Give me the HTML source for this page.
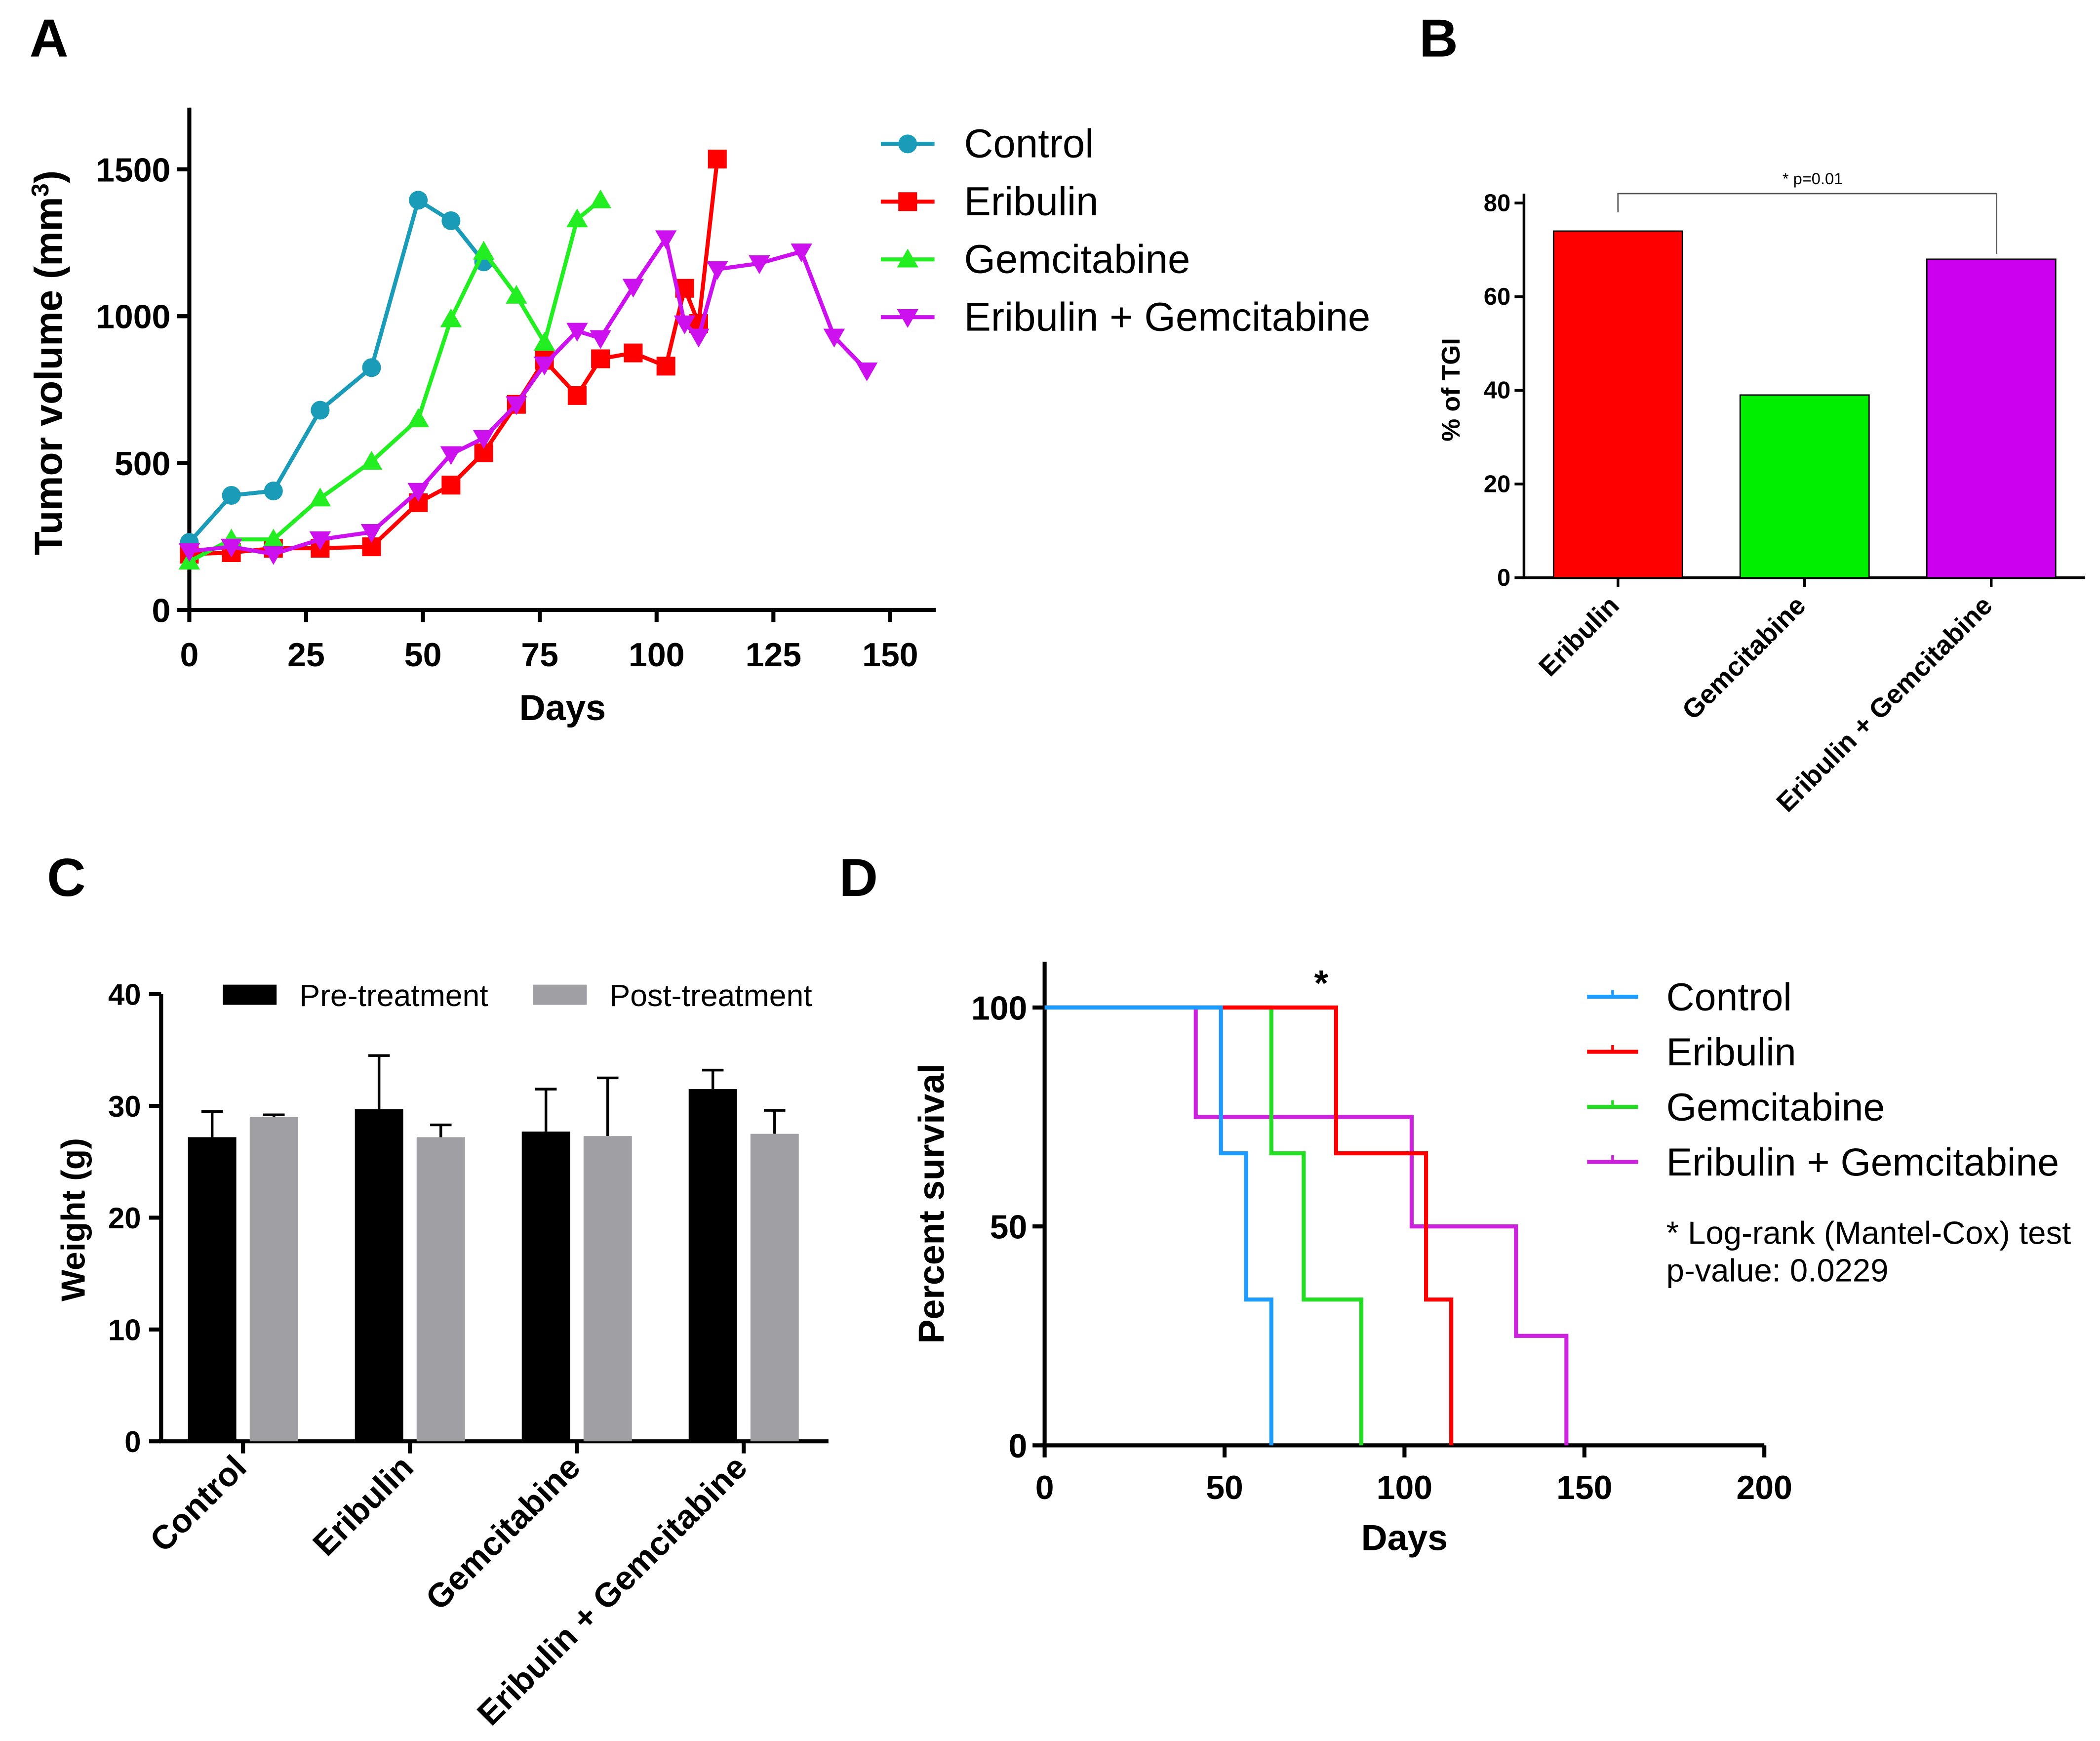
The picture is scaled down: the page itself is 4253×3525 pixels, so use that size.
<!DOCTYPE html>
<html><head><meta charset="utf-8"><style>
html,body{margin:0;padding:0;background:#fff}
svg{display:block}
text{font-family:"Liberation Sans",sans-serif}
</style></head><body>
<svg id="s" width="4253" height="3525" viewBox="0 0 1564 1296" xmlns="http://www.w3.org/2000/svg">
<g id="g"></g>
</svg>
<script>
// Panel A data
const aSeries=["Control","Eribulin","Gemcitabine","Eribulin + Gemcitabine"];
const aControlDays=[0,9,18,28,39,49,56,63];
const aControlVals=[230,390,405,680,825,1395,1325,1185];
const aEribDays=[0,9,18,28,39,49,56,63,70,76,83,88,95,102,106,109,113];
const aEribVals=[190,195,210,210,215,365,425,535,700,850,730,855,875,830,1095,975,1535];
const aGemDays=[0,9,18,28,39,49,56,63,70,76,83,88];
const aGemVals=[165,240,240,380,505,650,990,1220,1070,910,1330,1395];
const aComboDays=[0,9,18,28,39,49,56,63,70,76,83,88,95,102,106,109,113,122,131,138,145];
const aComboVals=[200,215,190,240,265,405,530,585,700,835,950,925,1100,1265,975,930,1160,1180,1220,930,815];
const aXTicks=[0,25,50,75,100,125,150];
const aYTicks=[0,500,1000,1500];
// Panel B data
const bCats=["Eribulin","Gemcitabine","Eribulin + Gemcitabine"];
const bVals=[74,39,68];
const bYTicks=[0,20,40,60,80];
// Panel C data
const cCats=["Control","Eribulin","Gemcitabine","Eribulin + Gemcitabine"];
const cPre=[27.2,29.7,27.7,31.5];
const cPreErr=[2.3,4.8,3.8,1.7];
const cPost=[29.0,27.2,27.3,27.5];
const cPostErr=[0.2,1.1,5.2,2.1];
const cYTicks=[0,10,20,30,40];
// Panel D data
const dCtrlT=[0,49,56,63];const dCtrlS=[100,66.7,33.3,0];
const dEribT=[0,81,106,113];const dEribS=[100,66.7,33.3,0];
const dGemT=[0,63,72,88];const dGemS=[100,66.7,33.3,0];
const dComboT=[0,42,102,131,145];const dComboS=[100,75,50,25,0];
const dXTicks=[0,50,100,150,200];
const dYTicks=[0,50,100];

const NS="http://www.w3.org/2000/svg";
const G=document.getElementById('g');
function el(tag,attrs,parent,txt){const e=document.createElementNS(NS,tag);for(const k in attrs)e.setAttribute(k,attrs[k]);if(txt!==undefined)e.textContent=txt;(parent||G).appendChild(e);return e;}
function grp(name){const g=el('g',{});return g;}
function txt(p,x,y,s,sz,opt){const t=el('text',Object.assign({x:x,y:y,'font-size':sz},opt||{}),p,s);return t;}

// letters
[["A",22,42],["B",1057,42],["C",35,667],["D",625,667]].forEach(l=>{const t=txt(G,l[1],l[2],l[0],40,{'font-weight':'bold'});});

// ---- Panel A
const ax=d=>141+d*3.48, ay=v=>454-v*0.2187;
const A=grp('panel-a-chart');
el('path',{d:'M141,80V454H697',stroke:'#000','stroke-width':3,fill:'none'},A);
aXTicks.forEach(t=>{el('line',{x1:ax(t),x2:ax(t),y1:454,y2:463,stroke:'#000','stroke-width':3},A);txt(A,ax(t),496,t,25,{'text-anchor':'middle','font-weight':'bold'});});
aYTicks.forEach(t=>{el('line',{x1:132,x2:141,y1:ay(t),y2:ay(t),stroke:'#000','stroke-width':3},A);txt(A,127,ay(t)+9,t,25,{'text-anchor':'end','font-weight':'bold'});});
txt(A,419,536,'Days',27,{'text-anchor':'middle','font-weight':'bold'});
const yt=txt(A,0,0,'',29,{'text-anchor':'middle','font-weight':'bold',transform:'translate(46,270) rotate(-90)'});
yt.innerHTML='Tumor volume (mm<tspan dy="-10" font-size="18">3</tspan><tspan dy="10">)</tspan>';
const aCols=['#1a9bb8','#ff0000','#22ee22','#cc11ee'];
const aData=[[aControlDays,aControlVals],[aEribDays,aEribVals],[aGemDays,aGemVals],[aComboDays,aComboVals]];
function marker(p,k,x,y,c){
 let m;
 if(k==0)m=el('circle',{cx:x,cy:y,r:7,fill:c},p);
 else if(k==1)m=el('rect',{x:x-7,y:y-7,width:14,height:14,fill:c},p);
 else if(k==2)m=el('path',{d:`M${x},${y-8}L${x+8},${y+6}L${x-8},${y+6}Z`,fill:c},p);
 else m=el('path',{d:`M${x},${y+8}L${x+8},${y-6}L${x-8},${y-6}Z`,fill:c},p);
 
}
aData.forEach((s,k)=>{
 const sg=grp('series-'+k);A.appendChild(sg);
 el('polyline',{points:s[0].map((d,i)=>ax(d)+','+ay(s[1][i])).join(' '),fill:'none',stroke:aCols[k],'stroke-width':3},sg);
 s[0].forEach((d,i)=>marker(sg,k,ax(d),ay(s[1][i]),aCols[k]));
 const ly=107+k*43;const lg=grp('legend-entry');A.appendChild(lg);
 el('line',{x1:656,x2:696,y1:ly,y2:ly,stroke:aCols[k],'stroke-width':3},lg);marker(lg,k,676,ly,aCols[k]);
 txt(lg,718,ly+10,aSeries[k],30);
});

// ---- Panel B
const by=v=>430-v*3.4875;
const B=grp('panel-b-chart');
el('path',{d:'M1135,144V430H1553',stroke:'#000','stroke-width':2,fill:'none'},B);
bYTicks.forEach(t=>{el('line',{x1:1128,x2:1135,y1:by(t),y2:by(t),stroke:'#000','stroke-width':2},B);txt(B,1125,by(t)+6,t,18,{'text-anchor':'end','font-weight':'bold'});});
const bCols=['#ff0000','#00ee00','#cc00ee'];
bCats.forEach((c,i)=>{const cx=1205+i*139;
 const r=el('rect',{x:cx-48,y:by(bVals[i]),width:96,height:430-by(bVals[i]),fill:bCols[i],stroke:'#000','stroke-width':1},B);
 
 el('line',{x1:cx,x2:cx,y1:430,y2:437,stroke:'#000','stroke-width':2},B);
 txt(B,cx+2,452,c,20,{'text-anchor':'end','font-weight':'bold',transform:`rotate(-45 ${cx+2} 452)`});
});
el('path',{d:`M1205,${by(bVals[0])-14}V144H1487V${by(bVals[2])-4}`,stroke:'#555','stroke-width':1,fill:'none'},B);
txt(B,1350,137,'* p=0.01',12,{'text-anchor':'middle'});
txt(B,0,0,'% of TGI',19,{'text-anchor':'middle','font-weight':'bold',transform:'translate(1087,290) rotate(-90)'});

// ---- Panel C
const cy=v=>1073-v*8.325;
const C=grp('panel-c-chart');
el('path',{d:'M120,740V1073H617',stroke:'#000','stroke-width':3,fill:'none'},C);
cYTicks.forEach(t=>{el('line',{x1:111,x2:120,y1:cy(t),y2:cy(t),stroke:'#000','stroke-width':3},C);txt(C,105,cy(t)+8,t,22,{'text-anchor':'end','font-weight':'bold'});});
cCats.forEach((c,i)=>{const gx=181+i*124.3;
 [[cPre,cPreErr,'#000',-41],[cPost,cPostErr,'#a0a0a4',5]].forEach(s=>{
  const x=gx+s[3],v=s[0][i],e=s[1][i];
  el('line',{x1:x+18,x2:x+18,y1:cy(v),y2:cy(v+e),stroke:'#000','stroke-width':2},C);
  el('line',{x1:x+10,x2:x+26,y1:cy(v+e),y2:cy(v+e),stroke:'#000','stroke-width':2},C);
  const r=el('rect',{x:x,y:cy(v),width:36,height:1073-cy(v),fill:s[2]},C);
  
 });
 el('line',{x1:gx,x2:gx,y1:1073,y2:1082,stroke:'#000','stroke-width':3},C);
 txt(C,gx+4,1094,c,25,{'text-anchor':'end','font-weight':'bold',transform:`rotate(-45 ${gx+4} 1094)`});
});
el('rect',{x:166,y:733,width:40,height:15,fill:'#000'},C);txt(C,223,749,'Pre-treatment',23);
el('rect',{x:397,y:733,width:40,height:15,fill:'#a0a0a4'},C);txt(C,454,749,'Post-treatment',23);
txt(C,0,0,'Weight  (g)',25,{'text-anchor':'middle','font-weight':'bold',transform:'translate(63,908) rotate(-90)'});

// ---- Panel D
const dx=d=>778+d*2.68, dy=v=>1076-v*3.26;
const D=grp('panel-d-chart');
el('path',{d:'M778,716V1076H1314',stroke:'#000','stroke-width':3,fill:'none'},D);
dXTicks.forEach(t=>{el('line',{x1:dx(t),x2:dx(t),y1:1076,y2:1085,stroke:'#000','stroke-width':3},D);txt(D,dx(t),1116,t,25,{'text-anchor':'middle','font-weight':'bold'});});
dYTicks.forEach(t=>{el('line',{x1:769,x2:778,y1:dy(t),y2:dy(t),stroke:'#000','stroke-width':3},D);txt(D,765,dy(t)+9,t,25,{'text-anchor':'end','font-weight':'bold'});});
txt(D,1046,1154,'Days',27,{'text-anchor':'middle','font-weight':'bold'});
txt(D,0,0,'Percent survival',27,{'text-anchor':'middle','font-weight':'bold',transform:'translate(703,896) rotate(-90)'});
const dCols=['#1e9bff','#ff0000','#22dd22','#cc22dd'];
const dNames=aSeries;
[[dComboT,dComboS],[dGemT,dGemS],[dEribT,dEribS],[dCtrlT,dCtrlS]].forEach((s,j)=>{const k=3-j;
 let d=`M${dx(s[0][0])},${dy(s[1][0])}`;
 for(let i=1;i<s[0].length;i++){d+=`H${dx(s[0][i])}V${dy(s[1][i])}`;}
 const p=el('path',{d:d,fill:'none',stroke:dCols[k],'stroke-width':3},D);
 
});
dNames.forEach((n,k)=>{const ly=742+k*41;const lg=grp('legend-entry');D.appendChild(lg);
 el('line',{x1:1182,x2:1220,y1:ly,y2:ly,stroke:dCols[k],'stroke-width':3},lg);
 el('line',{x1:1201,x2:1201,y1:ly-5,y2:ly,stroke:dCols[k],'stroke-width':2},lg);
 txt(lg,1241,ly+10,n,29);});
txt(D,984,741,'*',27,{'text-anchor':'middle','font-weight':'bold'});
txt(D,1241,926,'* Log-rank (Mantel-Cox) test',24);
txt(D,1241,954,'p-value: 0.0229',24);
</script>
</body></html>
